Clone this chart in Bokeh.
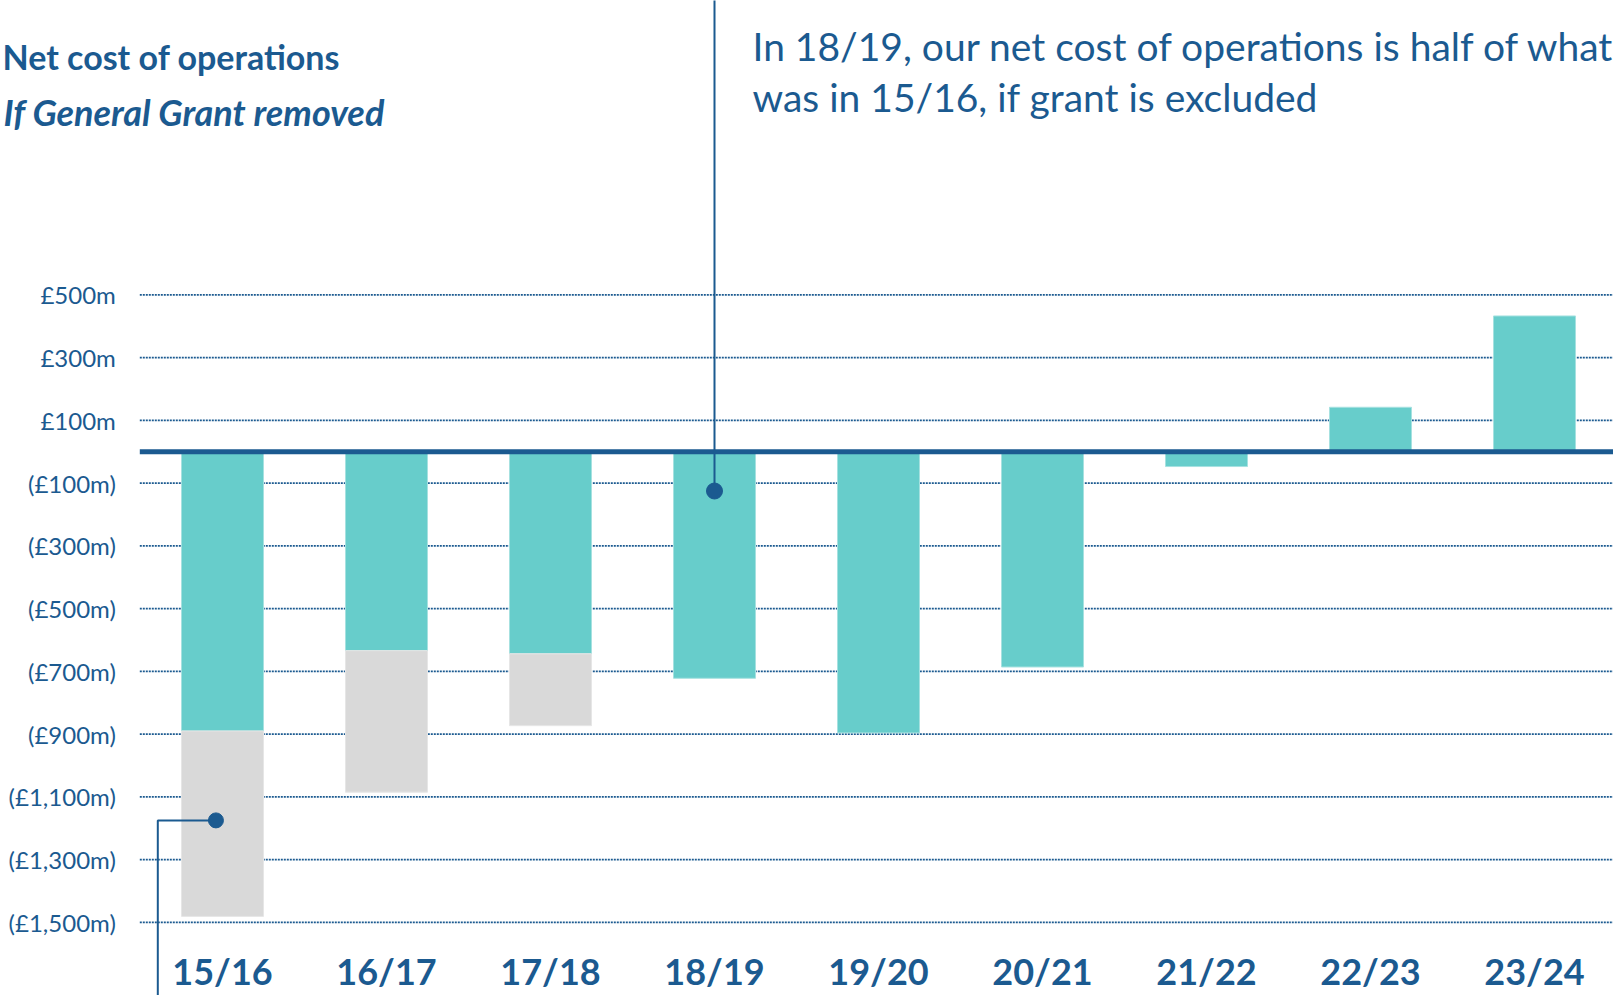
import numpy as np
from bokeh.plotting import figure
from bokeh.models import Range1d, FixedTicker, Label
from bokeh.embed import file_html
from bokeh.resources import INLINE

# ---------------- data ----------------
categories = ["15/16", "16/17", "17/18", "18/19", "19/20", "20/21", "21/22", "22/23", "23/24"]
net_cost = [-890, -634, -644, -722, -896, -686, -47, 142, 433]          # £m
grant_removed = [-1481, -1085, -873, None, None, None, None, None, None]  # £m, if General Grant removed
y_ticks = [500, 300, 100, -100, -300, -500, -700, -900, -1100, -1300, -1500]
y_tick_labels = ["£500m", "£300m", "£100m", "(£100m)", "(£300m)", "(£500m)", "(£700m)",
                 "(£900m)", "(£1,100m)", "(£1,300m)", "(£1,500m)"]
legend_net = "Net cost of operations"
legend_grant = "If General Grant removed"
note_lines = ["In 18/19, our net cost of operations is half of what",
              "was in 15/16, if grant is excluded"]

# ---------------- styles ----------------
DARK = "#1b5a90"
TEAL = "#67cdcb"
GREY = "#d9d9d9"
FONT = "Lato"

W, H = 1613, 995
# page-pixel mapping helpers (zero line at page y 451.3, 0.3137 px per £m; 164 px per category)
PX_PER_M = 0.3137
ZERO_Y = 451.3
def yv(page_y):
    return (ZERO_Y - page_y) / PX_PER_M
def xv(page_x):
    return (page_x - 222.0) / 164.0

LABEL_SHIFT = 14  # compensation for label baseline placement

x = np.arange(len(categories))
GRID_X0 = xv(139.3)
GRID_X1 = xv(W + 5)

p = figure(width=W, height=H, output_backend="svg", toolbar_location=None,
           x_range=Range1d(xv(0), xv(W)), y_range=Range1d(yv(H), yv(0)),
           min_border_left=0, min_border_right=0, min_border_top=0, min_border_bottom=0,
           background_fill_color="white", border_fill_color="white")
p.outline_line_color = None
p.xgrid.visible = False
p.ygrid.visible = False

# y axis (drawn inside the frame, left of the grid)
p.yaxis.fixed_location = GRID_X0
p.yaxis.ticker = FixedTicker(ticks=y_ticks)
p.yaxis.major_label_overrides = {t: l for t, l in zip(y_ticks, y_tick_labels)}
p.yaxis.axis_line_color = None
p.yaxis.major_tick_line_color = None
p.yaxis.minor_tick_line_color = None
p.yaxis.major_label_standoff = 18
p.yaxis.major_label_text_font = FONT
p.yaxis.major_label_text_font_size = "24px"
p.yaxis.major_label_text_color = DARK

# x axis (category labels)
p.xaxis.fixed_location = yv(942)
p.xaxis.ticker = FixedTicker(ticks=list(x))
p.xaxis.major_label_overrides = {int(i): c for i, c in zip(x, categories)}
p.xaxis.axis_line_color = None
p.xaxis.major_tick_line_color = None
p.xaxis.minor_tick_line_color = None
p.xaxis.major_label_standoff = 0
p.xaxis.major_label_text_font = FONT
p.xaxis.major_label_text_font_size = "36px"
p.xaxis.major_label_text_font_style = "bold"
p.xaxis.major_label_text_color = DARK

# dotted gridlines at the tick values
n = len(y_ticks)
p.segment(x0=[GRID_X0] * n, y0=y_ticks, x1=[GRID_X1] * n, y1=y_ticks,
          line_color=DARK, line_width=1.8, line_dash="2 1")

# bars
p.vbar(x=x, top=0, bottom=net_cost, width=0.5, fill_color=TEAL,
       line_color="#a6e1e0", line_width=1)
gx = [int(i) for i, g in zip(x, grant_removed) if g is not None]
gtop = [net_cost[i] for i in gx]
gbot = [grant_removed[i] for i in gx]
p.vbar(x=gx, top=gtop, bottom=gbot, width=0.5, fill_color=GREY,
       line_color="#e6e6e6", line_width=1)

# zero line
p.segment(x0=[GRID_X0], y0=[0], x1=[GRID_X1], y1=[0], line_color=DARK, line_width=5)

# callout for 18/19
p.segment(x0=[3], y0=[-125], x1=[3], y1=[yv(-20)], line_color=DARK, line_width=2)
p.scatter(x=[3], y=[-125], size=16, fill_color=DARK, line_color=DARK)

# callout for 15/16 (grant removed)
ex = xv(157.3)
p.line(x=[-0.04, ex, ex], y=[-1175, -1175, yv(H + 20)], line_color=DARK, line_width=2)
p.scatter(x=[-0.04], y=[-1175], size=15, fill_color=DARK, line_color=DARK)

# annotation text
for txt, base in zip(note_lines, [59.5, 110.5]):
    p.add_layout(Label(x=xv(752), y=yv(base - LABEL_SHIFT), text=txt, text_font=FONT,
                       text_font_size="39px", text_color=DARK,
                       text_baseline="alphabetic", text_align="left"))

# legend-like labels (top-left)
p.add_layout(Label(x=xv(2), y=yv(69.5 - LABEL_SHIFT), text=legend_net, text_font=FONT,
                   text_font_size="34px", text_font_style="bold", text_color=DARK,
                   text_baseline="alphabetic", text_align="left"))
p.add_layout(Label(x=xv(3), y=yv(125 - LABEL_SHIFT), text=legend_grant, text_font=FONT,
                   text_font_size="36px", text_font_style="bold italic", text_color=DARK,
                   text_baseline="alphabetic", text_align="left"))

open("out.html", "w").write(file_html(p, INLINE))
